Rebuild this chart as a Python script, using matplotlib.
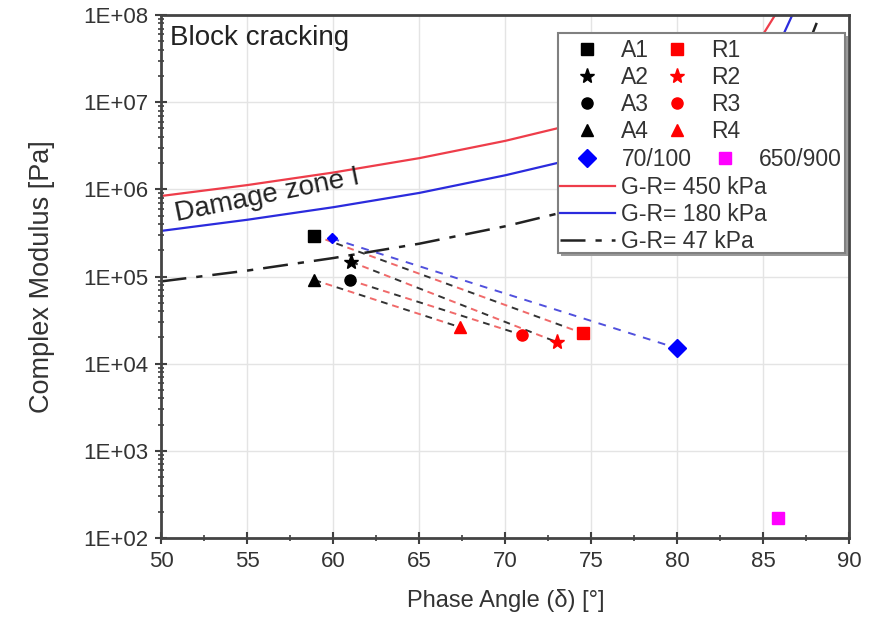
import numpy as np
import matplotlib
matplotlib.use("Agg")
import matplotlib.pyplot as plt
from matplotlib.lines import Line2D
from matplotlib.patches import Rectangle
from matplotlib.ticker import MultipleLocator, LogLocator, FuncFormatter, NullFormatter

plt.rcParams['font.family'] = ['Liberation Sans', 'DejaVu Sans']

# unaged (A) and aged (R) samples: phase angle [deg], |G*| [Pa]
a_delta = [58.9, 61.05, 60.95, 58.9]
a_g = [2.95e5, 1.47e5, 9.1e4, 9.1e4]
r_delta = [74.5, 73.0, 71.0, 67.35]
r_g = [2.24e4, 1.77e4, 2.13e4, 2.63e4]
markers = ['s', '*', 'o', '^']
names = ['1', '2', '3', '4']

# reference binders
b70_delta = [59.9, 79.97]
b70_g = [2.74e5, 1.51e4]
b650_delta = [85.85]
b650_g = [170]

# Glover-Rowe limit curves
gr450_delta = [50, 55, 60, 65, 70, 73, 76, 78, 80, 82, 83, 84, 85, 85.7, 86.0]
gr450_g = [8.4e5, 1.12e6, 1.56e6, 2.28e6, 3.6e6, 5.0e6, 7.5e6, 1.02e7, 1.47e7, 2.3e7,
           3.0e7, 4.1e7, 6.0e7, 1.0e8, 1.25e8]
gr180_delta = [50, 55, 60, 65, 70, 73, 76, 78, 80, 82, 83, 84, 85, 86, 86.7, 87.0]
gr180_g = [3.34e5, 4.48e5, 6.24e5, 9.1e5, 1.45e6, 2.0e6, 3.0e6, 4.1e6, 5.9e6, 9.2e6,
           1.2e7, 1.65e7, 2.5e7, 5.0e7, 1.0e8, 1.25e8]
gr47_delta = [50, 55, 60, 65, 70, 73, 76, 78, 80, 82, 84, 85, 86, 87, 87.7, 88.3, 88.6]
gr47_g = [8.8e4, 1.17e5, 1.63e5, 2.38e5, 3.77e5, 5.25e5, 7.8e5, 1.06e6, 1.54e6, 2.4e6,
          4.3e6, 6.2e6, 1.0e7, 2.0e7, 5.0e7, 1.0e8, 1.3e8]

RED_C = '#ee3d4a'
BLUE_C = '#2b2bdd'
DASHDOT = (0, (10, 4, 2.5, 4))

fig = plt.figure(figsize=(8.7, 6.23), dpi=100)
ax = fig.add_axes([0.1856, 0.1364, 0.7903, 0.8395])
ax.set_yscale('log')
ax.set_xlim(50, 90)
ax.set_ylim(1e2, 1e8)

ax.plot(gr450_delta, gr450_g, color=RED_C, lw=1.6, zorder=2)
ax.plot(gr180_delta, gr180_g, color=BLUE_C, lw=1.6, zorder=2)
ax.plot(gr47_delta, gr47_g, color='#222222', lw=1.8, ls=DASHDOT, zorder=2)

# aging paths (black and red dashes interleaved)
for i in range(4):
    xs = [a_delta[i], r_delta[i]]
    ys = [a_g[i], r_g[i]]
    ax.plot(xs, ys, color='#333333', lw=1.4, ls=(0, (3.5, 8.5)), zorder=3)
    ax.plot(xs, ys, color='#f06a6a', lw=1.4, ls=(6, (3.5, 8.5)), zorder=3)
ax.plot(b70_delta, b70_g, color='#5050dd', lw=1.4, ls=(0, (4, 4)), zorder=3)

for i in range(4):
    ms = 11 if markers[i] == '*' else 8
    ax.plot(a_delta[i], a_g[i], marker=markers[i], color='black', ms=ms, ls='none', zorder=5)
    ax.plot(r_delta[i], r_g[i], marker=markers[i], color='red', ms=ms, ls='none', zorder=5)
ax.plot(b70_delta[:1], b70_g[:1], marker='D', color='blue', ms=5, ls='none', zorder=4)
ax.plot(b70_delta[1:], b70_g[1:], marker='D', color='blue', ms=9, ls='none', zorder=5)
ax.plot(b650_delta, b650_g, marker='s', color='magenta', ms=8, ls='none', zorder=5)

# axes styling
ax.xaxis.set_major_locator(MultipleLocator(5))
ax.xaxis.set_minor_locator(MultipleLocator(2.5))
ax.yaxis.set_major_locator(LogLocator(base=10, numticks=10))
ax.yaxis.set_minor_locator(LogLocator(base=10, subs=np.arange(2, 10), numticks=20))
ax.yaxis.set_minor_formatter(NullFormatter())
ax.yaxis.set_major_formatter(FuncFormatter(lambda v, p: '1E+%02d' % int(round(np.log10(v)))))
ax.tick_params(which='major', direction='inout', length=9, width=1.5, color='#404040',
               labelsize=16, labelcolor='#333333', pad=5)
ax.tick_params(which='minor', direction='inout', length=5, width=1.2, color='#404040')
ax.tick_params(top=False, right=False)
ax.grid(True, which='major', color='#e4e4e4', lw=1.0)
ax.set_axisbelow(True)
for s in ax.spines.values():
    s.set_color('#444444')
    s.set_linewidth(2.0)

ax.set_xlabel('Phase Angle (\u03b4) [\u00b0]', fontsize=17, color='#333333', labelpad=12)
ax.set_ylabel('Complex Modulus [Pa]', fontsize=19.5, color='#333333', labelpad=20)

ax.text(0.0124, 0.9426, 'Block cracking', transform=ax.transAxes, fontsize=20,
        color='#222222', va='baseline', ha='left')
ax.text(0.022, 0.606, 'Damage zone I', transform=ax.transAxes, fontsize=20,
        color='#222222', va='baseline', ha='left', rotation=11.5, rotation_mode='anchor')

# legend frame with shadow
ax.add_patch(Rectangle((0.5807, 0.539), 0.4175, 0.4207, transform=ax.transAxes,
                       facecolor='#9a9a9a', edgecolor='none', zorder=6))
ax.add_patch(Rectangle((0.5767, 0.545), 0.4175, 0.4207, transform=ax.transAxes,
                       facecolor='white', edgecolor='#808080', lw=1.5, zorder=7))

h_a = [Line2D([], [], marker=m, color='black', ls='none', ms=(11 if m == '*' else 8)) for m in markers]
h_r = [Line2D([], [], marker=m, color='red', ls='none', ms=(11 if m == '*' else 8)) for m in markers]
lab_a = ['A' + n for n in names]
lab_r = ['R' + n for n in names]
common = dict(frameon=False, fontsize=16.5, handlelength=2.4, handletextpad=0.3,
              borderpad=0, borderaxespad=0, labelspacing=0.18, loc='upper left')
leg1 = ax.legend(h_a + h_r, lab_a + lab_r, ncol=2, columnspacing=0.0,
                 bbox_to_anchor=(0.579, 0.955), **common)
leg1.set_zorder(8)
ax.add_artist(leg1)
h_b = [Line2D([], [], marker='D', color='blue', ls='none', ms=9),
       Line2D([], [], marker='s', color='magenta', ls='none', ms=8)]
leg2 = ax.legend(h_b, ['70/100', '650/900'], ncol=2, columnspacing=0.26,
                 bbox_to_anchor=(0.579, 0.745), **common)
leg2.set_zorder(8)
ax.add_artist(leg2)
h_c = [Line2D([], [], color=RED_C, lw=1.6),
       Line2D([], [], color=BLUE_C, lw=1.6),
       Line2D([], [], color='#222222', lw=1.8, ls=DASHDOT)]
leg3 = ax.legend(h_c, ['G-R= 450 kPa', 'G-R= 180 kPa', 'G-R= 47 kPa'],
                 bbox_to_anchor=(0.579, 0.693), **common)
leg3.set_zorder(8)
for lg in (leg1, leg2, leg3):
    for t in lg.get_texts():
        t.set_color('#333333')

fig.savefig('out.png', dpi=100)
